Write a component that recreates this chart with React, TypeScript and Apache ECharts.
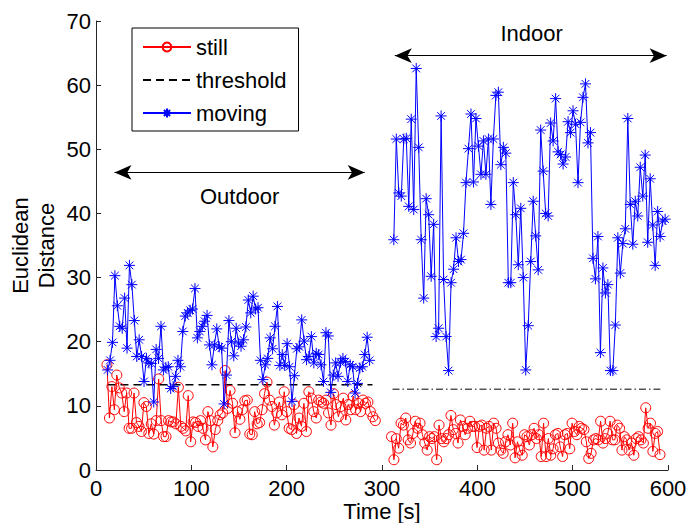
import React, { useEffect, useRef } from "react";
import * as echarts from "echarts";

// ---- data ----
const outdoorMovingT0 = 12.2;
const outdoorMovingT1 = 287;
const outdoorMoving = [
  15.6, 17.1, 19.9, 30.3, 25.6, 22.4, 22.1, 26.8, 19.0, 31.9, 28.9, 23.3, 17.7, 20.3, 17.7, 13.8, 17.4, 16.7, 16.6, 10.6,
  18.8, 17.4, 22.4, 15.6, 16.0, 16.1, 12.7, 13.0, 14.6, 17.1, 16.1, 21.6, 24.0, 24.5, 24.9, 25.1, 28.3, 20.6, 21.6, 22.4,
  23.2, 24.1, 19.5, 16.4, 19.5, 22.0, 19.2, 19.0, 10.3, 14.8, 23.3, 20.0, 17.8,
  22.1, 19.8, 19.3, 20.3, 22.3, 26.5, 24.5, 27.1, 25.1, 25.3, 17.1, 14.1, 16.4, 17.4, 20.6, 18.9, 22.4, 25.5, 16.3, 18.0,
  16.3, 19.7, 16.1, 10.7, 14.7, 18.9, 19.2, 23.4, 20.1, 17.2, 17.7, 20.8, 16.7, 18.2, 18.0, 16.4, 13.8, 21.4, 20.9, 12.1,
  14.8, 16.7, 14.6, 16.8, 17.4, 16.9, 13.8, 16.4, 16.1, 12.0, 13.5, 15.9, 16.1, 18.0, 20.7, 17.1,
];

const indoorMovingT0 = 312.4;
const indoorMovingT1 = 597;
const indoorMoving = [
  35.9, 51.6, 43.2, 42.7, 51.6, 51.7, 41.1, 54.7, 40.6, 62.6, 50.3, 35.9, 26.8, 42.3, 39.8, 30.2, 38.3, 20.8, 22.1, 55.2,
  29.7, 20.8, 15.5, 29.2, 31.3, 36.2, 32.5, 32.8, 36.9, 44.8, 50.1, 55.5, 44.9, 54.8, 50.5, 46.1, 51.3, 46.1, 51.6, 41.4,
  51.6, 58.4, 58.9, 47.6, 50.3, 49.4, 29.2, 29.2,
  44.8, 39.8, 32.0, 40.8, 30.0, 15.6, 22.5, 32.5, 41.9, 36.5, 31.2, 53.0, 46.6, 40.0, 39.6, 54.1, 51.3, 57.9, 49.6, 49.2,
  47.7, 48.8, 54.3, 52.6, 56.0, 53.9, 44.8, 54.2, 58.1, 60.2, 51.0, 52.6, 33.0, 29.8, 36.4, 18.3, 31.5, 27.6, 28.9, 15.5,
  15.5, 22.6, 36.2, 30.7, 35.3, 37.6, 54.8, 41.4, 35.2, 41.9, 39.6, 47.2, 42.7, 49.1, 35.5, 45.4, 38.2, 31.9, 40.3, 36.4,
  38.8, 39.1,
];

const outdoorStillT0 = 11.5;
const outdoorStillT1 = 293;
const outdoorStill = [
  16.4, 8.1, 13.0, 9.4, 14.8, 12.8, 12.0, 9.1, 12.0, 6.5, 6.5, 12.0, 7.4, 6.8, 6.0, 10.5, 9.9, 5.7, 7.2, 5.6,
  7.7, 14.2, 7.7, 5.2, 5.2, 7.7, 7.5, 7.5, 7.2, 12.9, 6.8, 6.5, 6.1, 11.6, 4.4, 7.5, 7.4, 6.8, 7.7, 6.5,
  4.7, 9.1, 7.7, 3.6, 6.3, 7.7, 8.6, 8.9, 15.5, 9.6, 12.4,
  10.4, 5.8, 9.1, 7.9, 9.4, 10.8, 10.9, 5.6, 5.5, 9.1, 7.2, 7.4, 9.4, 11.9, 13.7, 10.9, 9.9, 7.0, 8.9, 10.6,
  8.6, 12.2, 9.1, 6.5, 6.3, 10.2, 5.7, 8.1, 6.8, 10.4, 6.0, 12.2, 11.2, 9.1, 8.1, 10.9, 10.6, 10.4, 10.9, 8.9,
  7.0, 11.9, 10.2, 8.3, 9.9, 11.2, 7.8, 10.2, 9.4, 11.5, 9.4, 10.4, 9.1, 10.9, 10.4, 10.6, 9.1, 8.3, 7.7,
];

const indoorStillT0 = 310;
const indoorStillT1 = 591.6;
const indoorStill = [
  5.2, 1.6, 4.9, 3.4, 7.3, 7.0, 8.1, 4.7, 4.2, 5.7, 7.6, 6.5, 7.3, 5.5, 4.2, 3.1, 5.2, 4.9, 5.2, 1.6,
  7.0, 4.9, 4.4, 4.9, 5.5, 8.5, 6.3, 5.7, 4.2, 7.8, 6.8, 5.5, 6.5, 7.6, 6.8, 6.8, 3.5, 6.8, 7.0, 3.1, 6.5,
  6.8, 3.1, 7.3, 6.5, 4.2, 3.1, 2.6, 4.4, 5.5, 3.9, 7.3, 1.9, 4.4, 3.1, 2.3, 5.5, 5.2, 3.9, 5.5, 6.5,
  4.9, 5.5, 2.1, 7.3, 2.1, 4.9, 2.3, 3.3, 5.5, 5.7, 3.6, 2.1, 5.5, 5.7, 3.3, 7.3, 6.0, 5.5, 6.8, 6.5,
  6.3, 4.4, 1.8, 2.6, 4.7, 4.9, 4.7, 7.6, 4.2, 4.9, 5.7, 7.6, 4.7, 4.7, 7.0, 6.5, 3.1, 5.2, 4.7, 3.1,
  4.2, 2.3, 4.9, 5.2, 4.7, 4.2, 9.7, 6.5, 7.3, 2.9, 5.7, 6.0, 2.4,
];

const outdoorThreshold = [[12, 13.3], [290, 13.3]];
const indoorThreshold = [[311, 12.6], [592, 12.6]];

const arrowOutdoor = [[19.4, 46.4], [281.9, 46.4]];
const arrowIndoor = [[313.4, 64.6], [598.6, 64.6]];
const regionLabels = [
  [150.7, 42.6, "Outdoor"],
  [457, 68.1, "Indoor"],
];

const xTicks = { min: 0, max: 600, interval: 100 };
const yTicks = { min: 0, max: 70, interval: 10 };

const FONT = "'Liberation Sans', Arial, Helvetica, sans-serif";
const ASTERISK = "path://M5,0L5,10M0,5L10,5M1.5,1.5L8.5,8.5M1.5,8.5L8.5,1.5";

function sampled(values: number[], t0: number, t1: number) {
  const n = values.length;
  return values.map((v, i) => [t0 + ((t1 - t0) * i) / (n - 1), v]);
}

export default function App() {
  const ref = useRef<HTMLDivElement>(null);
  useEffect(() => {
    if (!ref.current) return;
    const chart = echarts.init(ref.current, null, { renderer: "svg" });
    const gap = [[300, "-"]];
    const stillData = [
      ...sampled(outdoorStill, outdoorStillT0, outdoorStillT1),
      ...gap,
      ...sampled(indoorStill, indoorStillT0, indoorStillT1),
    ];
    const movingData = [
      ...sampled(outdoorMoving, outdoorMovingT0, outdoorMovingT1),
      ...gap,
      ...sampled(indoorMoving, indoorMovingT0, indoorMovingT1),
    ];
    const arrowLine = (pts: number[][]) => [{ coord: pts[0] }, { coord: pts[1] }];
    chart.setOption({
      animation: false,
      backgroundColor: "#ffffff",
      textStyle: { fontFamily: FONT },
      grid: { left: 96, right: 20, top: 21, bottom: 53, containLabel: false, outerBoundsMode: "none" },
      legend: {
        data: [
          "still",
          { name: "threshold", itemStyle: { color: "rgba(0,0,0,0)", borderWidth: 0, opacity: 0 } },
          "moving",
        ],
        orient: "vertical",
        left: 132,
        top: 28,
        itemWidth: 48,
        itemHeight: 11,
        itemGap: 11,
        padding: [8, 12, 7, 10],
        borderColor: "#000",
        borderWidth: 1,
        backgroundColor: "#fff",
        selectedMode: false,
        textStyle: { fontSize: 22, color: "#000", fontFamily: FONT },
      },
      xAxis: {
        type: "value",
        ...xTicks,
        name: "Time [s]",
        nameLocation: "middle",
        nameGap: 30,
        nameMoveOverlap: false,
        nameTextStyle: { fontSize: 22, color: "#000", fontFamily: FONT },
        axisLine: { lineStyle: { color: "#262626", width: 1 } },
        axisTick: { inside: true, length: 5, lineStyle: { color: "#262626" } },
        axisLabel: { fontSize: 22, color: "#000", margin: 7, fontFamily: FONT },
        splitLine: { show: false },
      },
      yAxis: {
        type: "value",
        ...yTicks,
        name: "Euclidean\nDistance",
        nameLocation: "middle",
        nameRotate: 90,
        nameGap: 37,
        nameMoveOverlap: false,
        nameTextStyle: { fontSize: 22, lineHeight: 26, color: "#000", fontFamily: FONT },
        axisLine: { show: true, lineStyle: { color: "#262626", width: 1 } },
        axisTick: { show: true, inside: true, length: 5, lineStyle: { color: "#262626" } },
        axisLabel: { fontSize: 22, color: "#000", margin: 5, fontFamily: FONT },
        splitLine: { show: false },
      },
      series: [
        {
          name: "still",
          type: "line",
          data: stillData,
          showAllSymbol: true,
          connectNulls: false,
          symbol: "circle",
          symbolSize: 10,
          lineStyle: { color: "#ff0000", width: 1 },
          itemStyle: { color: "rgba(255,255,255,0)", borderColor: "#ff0000", borderWidth: 1 },
          z: 3,
        },
        {
          name: "threshold",
          type: "line",
          data: outdoorThreshold,
          symbol: "none",
          lineStyle: { color: "#000", width: 1.5, type: [8, 5] },
          itemStyle: { color: "#000" },
          z: 2,
        },
        {
          name: "threshold-indoor",
          type: "line",
          data: indoorThreshold,
          symbol: "none",
          lineStyle: { color: "#000", width: 1, type: [7, 3, 1.5, 3] },
          z: 2,
          markLine: {
            silent: true,
            symbol: ["arrow", "arrow"],
            symbolSize: [11, 17],
            label: { show: false },
            lineStyle: { color: "#000", width: 1, type: "solid" },
            data: [arrowLine(arrowOutdoor), arrowLine(arrowIndoor)],
          },
        },
        {
          name: "moving",
          type: "line",
          data: movingData,
          showAllSymbol: true,
          connectNulls: false,
          symbol: ASTERISK,
          symbolSize: 11,
          lineStyle: { color: "#0000ff", width: 1 },
          itemStyle: { color: "rgba(0,0,255,0)", borderColor: "#0000ff", borderWidth: 1 },
          z: 4,
        },
        {
          name: "regions",
          type: "scatter",
          data: regionLabels,
          symbolSize: 0,
          silent: true,
          itemStyle: { opacity: 1 },
          label: {
            show: true,
            position: "inside",
            formatter: (p: any) => p.value[2],
            fontSize: 22,
            color: "#000",
            opacity: 1,
            textBorderWidth: 0,
            textShadowBlur: 0,
            fontFamily: FONT,
          },
        },
      ],
    });
    return () => chart.dispose();
  }, []);
  return (
    <div
      ref={ref}
      style={{ position: "fixed", left: 0, top: 0, width: 688, height: 523 }}
    />
  );
}
